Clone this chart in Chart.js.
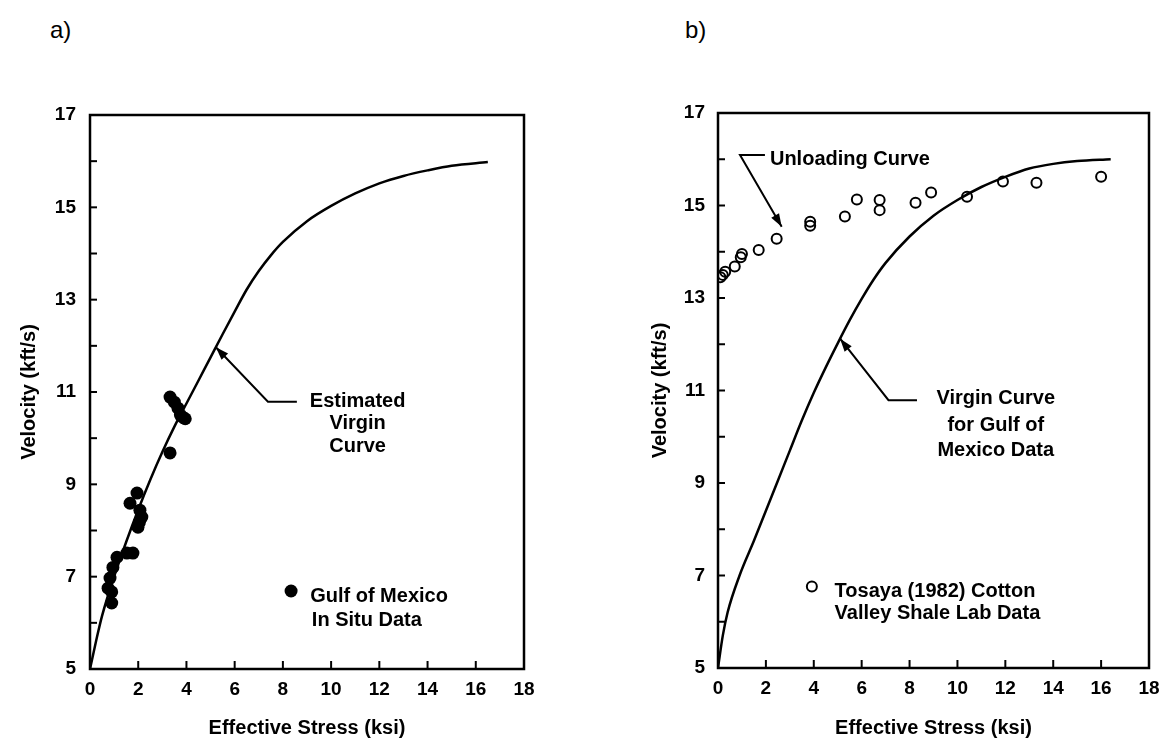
<!DOCTYPE html>
<html>
<head>
<meta charset="utf-8">
<script src="https://cdn.jsdelivr.net/npm/chart.js@4.4.1/dist/chart.umd.min.js"></script>
<style>
  body { margin: 0; background: #fff; width: 1170px; height: 742px; position: relative; overflow: hidden; font-family: "Liberation Sans", Arial, sans-serif; }
  canvas { position: absolute; top: 0; }
  .tag { position: absolute; font-size: 24px; line-height: 28px; color: #000; }
</style>
</head>
<body>
<div class="tag" style="left:50px; top:16px;">a)</div>
<div class="tag" style="left:685px; top:16px;">b)</div>
<canvas id="chart-a" width="585" height="742" style="left:0"></canvas>
<canvas id="chart-b" width="585" height="742" style="left:585px"></canvas>
<script>
// axis ticks
const xTicks = [0, 2, 4, 6, 8, 10, 12, 14, 16, 18];
const yTicks = [5, 6, 7, 8, 9, 10, 11, 12, 13, 14, 15, 16, 17];

// a) Gulf of Mexico in situ data
const stressA = [3.32, 3.5, 3.65, 3.86, 3.75, 3.95, 3.32, 1.95, 1.66, 2.07, 2.15, 1.99, 2.05, 1.53, 1.78, 1.12, 0.95, 0.83, 0.75, 0.9, 0.9];
const velA    = [10.89, 10.78, 10.65, 10.45, 10.5, 10.42, 9.68, 8.81, 8.59, 8.44, 8.29, 8.07, 8.18, 7.51, 7.51, 7.42, 7.2, 6.97, 6.75, 6.67, 6.43];

// a) estimated virgin curve
const curveStressA = [0, 0.25, 0.5, 1.0, 1.5, 2.0, 2.5, 3.0, 3.5, 4.0, 4.5, 5.0, 5.5, 6.0, 6.5, 7.0, 7.5, 8.0, 9.0, 10.0, 11.0, 12.0, 13.0, 14.0, 15.0, 16.5];
const curveVelA    = [5.0, 5.6, 6.15, 7.0, 7.75, 8.45, 9.1, 9.7, 10.25, 10.75, 11.25, 11.75, 12.25, 12.74, 13.22, 13.62, 13.96, 14.25, 14.7, 15.03, 15.3, 15.52, 15.68, 15.8, 15.9, 15.98];

// b) Tosaya (1982) Cotton Valley shale lab data
const stressB = [0.1, 0.2, 0.3, 0.7, 0.95, 1.0, 1.7, 2.45, 3.85, 3.85, 5.3, 5.8, 6.75, 6.75, 8.25, 8.9, 10.4, 11.9, 13.3, 16.0];
const velB    = [13.45, 13.5, 13.57, 13.68, 13.88, 13.95, 14.04, 14.28, 14.65, 14.56, 14.76, 15.13, 15.12, 14.9, 15.06, 15.28, 15.19, 15.52, 15.49, 15.62];

// b) virgin curve for Gulf of Mexico data
const curveStressB = [0, 0.2, 0.4, 0.9, 1.5, 2.0, 2.5, 3.0, 3.5, 4.0, 4.5, 5.0, 5.5, 6.0, 6.5, 7.0, 8.0, 9.0, 10.0, 11.0, 12.0, 13.0, 14.0, 15.0, 16.4];
const curveVelB    = [5.0, 5.7, 6.2, 7.0, 7.75, 8.4, 9.05, 9.7, 10.35, 10.95, 11.5, 12.02, 12.52, 12.98, 13.4, 13.76, 14.33, 14.78, 15.12, 15.4, 15.62, 15.8, 15.9, 15.96, 16.0];

const FONT = '"Liberation Sans", Arial, sans-serif';
const pts = (xs, ys) => xs.map((x, i) => ({ x: x, y: ys[i] }));

// box round the plot with inward tick marks
const boxTicks = {
  id: 'boxTicks',
  afterDatasetsDraw(chart) {
    const { ctx, chartArea: a, scales: { x, y } } = chart;
    ctx.save();
    ctx.strokeStyle = '#000';
    ctx.lineWidth = 2;
    yTicks.forEach(v => {
      const py = y.getPixelForValue(v);
      ctx.beginPath(); ctx.moveTo(a.left, py); ctx.lineTo(a.left + 7, py); ctx.stroke();
    });
    xTicks.forEach(v => {
      const px = x.getPixelForValue(v);
      ctx.beginPath(); ctx.moveTo(px, a.bottom); ctx.lineTo(px, a.bottom - 8); ctx.stroke();
    });
    ctx.lineWidth = 2.5;
    ctx.strokeRect(a.left, a.top, a.right - a.left, a.bottom - a.top);
    ctx.restore();
  }
};

// leader lines, labels and legend marker
function notes(cfg) {
  return {
    id: 'notes',
    afterDatasetsDraw(chart) {
      const { ctx, scales: { x, y } } = chart;
      const P = p => [x.getPixelForValue(p[0]), y.getPixelForValue(p[1])];
      ctx.save();
      ctx.strokeStyle = '#000';
      ctx.fillStyle = '#000';
      ctx.lineWidth = 2;
      cfg.leaders.forEach(l => {
        const q = l.map(P);
        ctx.beginPath();
        ctx.moveTo(q[0][0], q[0][1]);
        q.slice(1).forEach(p => ctx.lineTo(p[0], p[1]));
        ctx.stroke();
        // arrow head at first point
        const ang = Math.atan2(q[0][1] - q[1][1], q[0][0] - q[1][0]);
        const len = 13, hw = 4.5;
        ctx.beginPath();
        ctx.moveTo(q[0][0], q[0][1]);
        ctx.lineTo(q[0][0] - len * Math.cos(ang) + hw * Math.sin(ang), q[0][1] - len * Math.sin(ang) - hw * Math.cos(ang));
        ctx.lineTo(q[0][0] - len * Math.cos(ang) - hw * Math.sin(ang), q[0][1] - len * Math.sin(ang) + hw * Math.cos(ang));
        ctx.closePath();
        ctx.fill();
      });
      ctx.font = 'bold 20px ' + FONT;
      ctx.textBaseline = 'middle';
      cfg.texts.forEach(t => {
        const p = P([t.x, t.y]);
        ctx.textAlign = t.align || 'left';
        ctx.fillText(t.text, p[0], p[1]);
      });
      const m = P([cfg.marker.x, cfg.marker.y]);
      ctx.beginPath();
      ctx.arc(m[0], m[1], cfg.marker.r, 0, Math.PI * 2);
      if (cfg.marker.filled) ctx.fill(); else { ctx.lineWidth = 2; ctx.stroke(); }
      ctx.restore();
    }
  };
}

function makeChart(id, points, curve, pointStyle, geom, note) {
  new Chart(document.getElementById(id), {
    type: 'scatter',
    data: {
      datasets: [
        Object.assign({ data: points, showLine: false }, pointStyle),
        {
          data: curve, showLine: true, pointRadius: 0, borderColor: '#000',
          borderWidth: 2.5, cubicInterpolationMode: 'monotone'
        }
      ]
    },
    options: {
      responsive: false,
      animation: false,
      devicePixelRatio: 1,
      layout: { padding: { left: 0, top: geom.top, right: geom.right, bottom: 0 } },
      plugins: { legend: { display: false }, tooltip: { enabled: false } },
      scales: {
        x: {
          type: 'linear', min: 0, max: 18,
          afterFit: s => { s.height = geom.xh; },
          grid: { display: false, drawTicks: false },
          border: { display: false },
          ticks: { stepSize: 2, autoSkip: false, maxRotation: 0, padding: 9, color: '#000', font: { family: FONT, size: 19, weight: 'bold' } },
          title: { display: true, text: 'Effective Stress (ksi)', color: '#000', padding: { top: 0, bottom: 2 }, font: { family: FONT, size: 20, weight: 'bold' } }
        },
        y: {
          type: 'linear', min: 5, max: 17,
          afterFit: s => { s.width = geom.yw; },
          grid: { display: false, drawTicks: false },
          border: { display: false },
          ticks: {
            stepSize: 1, autoSkip: false, padding: geom.lpad, color: '#000',
            font: { family: FONT, size: 19, weight: 'bold' },
            callback: v => (v % 2 === 1 ? v : '')
          },
          title: { display: true, text: 'Velocity (kft/s)', color: '#000', padding: { top: geom.tpad, bottom: 0 }, font: { family: FONT, size: 20, weight: 'bold' } }
        }
      }
    },
    plugins: [boxTicks, notes(note)]
  });
}

makeChart('chart-a', pts(stressA, velA), pts(curveStressA, curveVelA),
  { pointRadius: 6.5, backgroundColor: '#000', borderColor: '#000', borderWidth: 0 },
  { top: 115, right: 61, xh: 73, yw: 90, lpad: 14, tpad: 17 },
  {
    leaders: [[[5.22, 11.97], [7.38, 10.79], [8.58, 10.79]]],
    texts: [
      { text: 'Estimated', x: 11.1, y: 10.79, align: 'center' },
      { text: 'Virgin', x: 11.1, y: 10.31, align: 'center' },
      { text: 'Curve', x: 11.1, y: 9.83, align: 'center' },
      { text: 'Gulf of Mexico', x: 9.13, y: 6.58 },
      { text: 'In Situ Data', x: 9.2, y: 6.06 }
    ],
    marker: { x: 8.34, y: 6.69, r: 6.5, filled: true }
  });

makeChart('chart-b', pts(stressB, velB), pts(curveStressB, curveVelB),
  { pointRadius: 5, backgroundColor: 'rgba(0,0,0,0)', borderColor: '#000', borderWidth: 2 },
  { top: 113, right: 21, xh: 74, yw: 133, lpad: 13, tpad: 63 },
  {
    leaders: [
      [[5.1, 12.12], [7.12, 10.79], [8.31, 10.79]],
      [[2.66, 14.54], [0.92, 16.09], [1.96, 16.09]]
    ],
    texts: [
      { text: 'Unloading Curve', x: 2.17, y: 16.0 },
      { text: 'Virgin Curve', x: 11.6, y: 10.83, align: 'center' },
      { text: 'for Gulf of', x: 11.6, y: 10.25, align: 'center' },
      { text: 'Mexico Data', x: 11.6, y: 9.71, align: 'center' },
      { text: 'Tosaya (1982) Cotton', x: 4.87, y: 6.65 },
      { text: 'Valley Shale Lab Data', x: 4.87, y: 6.18 }
    ],
    marker: { x: 3.92, y: 6.76, r: 5, filled: false }
  });
</script>
</body>
</html>
